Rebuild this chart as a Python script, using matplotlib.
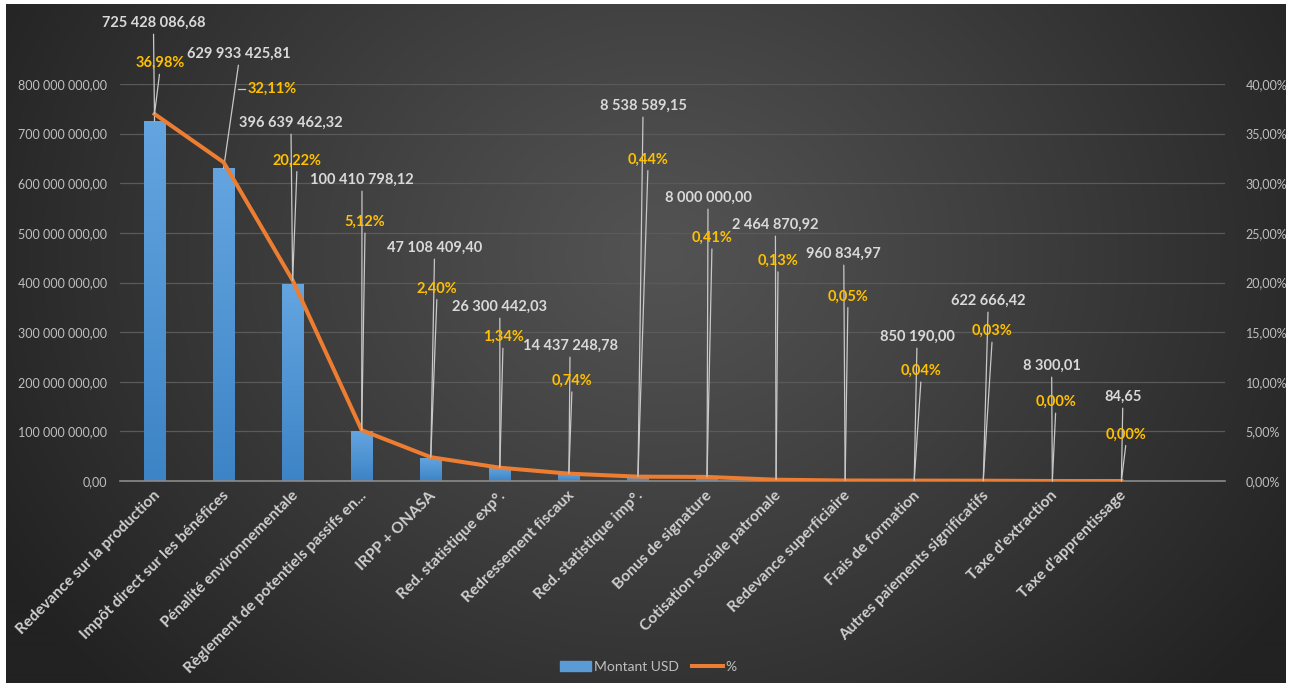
import matplotlib
matplotlib.use("Agg")
import matplotlib.pyplot as plt
import matplotlib.patches as mpatches
import matplotlib.transforms as mtransforms
from matplotlib.lines import Line2D
import numpy as np

plt.rcParams['font.family'] = ['Lato', 'DejaVu Sans']

categories = ["Redevance sur la production", "Impôt direct sur les bénéfices",
              "Pénalité environnementale", "Règlement de potentiels passifs en...",
              "IRPP + ONASA", "Red. statistique exp°.", "Redressement fiscaux",
              "Red. statistique imp°.", "Bonus de signature", "Cotisation sociale patronale",
              "Redevance superficiaire", "Frais de formation", "Autres paiements significatifs",
              "Taxe d'extraction", "Taxe d'apprentissage"]
montant = [725428086.68, 629933425.81, 396639462.32, 100410798.12, 47108409.40,
           26300442.03, 14437248.78, 8538589.15, 8000000.00, 2464870.92,
           960834.97, 850190.00, 622666.42, 8300.01, 84.65]
pct = [36.98, 32.11, 20.22, 5.12, 2.40, 1.34, 0.74, 0.44, 0.41, 0.13,
       0.05, 0.04, 0.03, 0.00, 0.00]

# where the data labels were dragged to (x in category units, y in axis units)
val_lbl_x = [-0.015, 1.223, 1.976, 3.004, 4.054, 5.0, 6.016, 7.073, 8.014, 8.99,
             9.98, 11.04, 12.07, 12.99, 14.02]
val_lbl_y = [922.9, 860.4, 721.4, 606.5, 469.5, 350.6, 272.0, 755.7, 570.3, 515.9,
             457.4, 290.2, 362.7, 231.7, 169.3]   # millions
pct_lbl_x = [0.079, 1.701, 2.063, 3.048, 4.09, 5.046, 6.045, 7.145, 8.072, 9.028,
             10.04, 11.1, 12.13, 13.05, 14.07]
pct_lbl_y = [42.1, 39.5, 32.3, 26.1, 19.4, 14.5, 10.1, 32.4, 24.5, 22.2,
             18.6, 11.1, 15.1, 7.96, 4.7]


def fr_num(v):
    return "{:,.2f}".format(v).replace(",", " ").replace(".", ",")


W, H = 1298, 687
fig = plt.figure(figsize=(W / 100, H / 100), dpi=100, facecolor="white")

# dark radial background
bg = fig.add_axes([6 / W, 4 / H, (1286 - 6) / W, (683 - 4) / H], zorder=-10)
yy, xx = np.mgrid[0:680, 0:1280]
r = np.sqrt(((xx - 655) / 760.0) ** 2 + ((yy - 250) / 640.0) ** 2)
r = np.clip(r, 0, 1) ** 1.1
shade = (0x53 + (0x22 - 0x53) * r) / 255.0
bg.imshow(np.dstack([shade, shade, shade]), aspect="auto", interpolation="bilinear")
bg.axis("off")

ax = fig.add_axes([120 / W, 1 - 481 / H, (1225 - 120) / W, (481 - 84) / H])
ax.set_facecolor("none")
ax2 = ax.twinx()

x = np.arange(len(categories))
bars = ax.bar(x, montant, width=0.31, color="#5B9BD5", zorder=2)

# vertical gradient inside each bar
grad = np.linspace(0, 1, 64).reshape(-1, 1)
top_c = np.array([0x64, 0xA5, 0xE0]) / 255.0
bot_c = np.array([0x3D, 0x84, 0xC6]) / 255.0
grad_img = top_c + (bot_c - top_c) * grad[..., None]
for b in bars:
    if b.get_height() <= 0:
        continue
    im = ax.imshow(grad_img, extent=[b.get_x(), b.get_x() + b.get_width(), 0, b.get_height()],
                   aspect="auto", zorder=2.1, interpolation="bilinear")
    im.set_clip_path(b)

ax.set_xlim(-0.5, 15.5)
ax.set_ylim(0, 800e6)
ax.set_yticks(np.arange(0, 800e6 + 1, 100e6))
ax.set_yticklabels([fr_num(t) for t in np.arange(0, 800e6 + 1, 100e6)])
ax.grid(axis="y", color="#5a5a5a", lw=0.9, zorder=0)
ax.set_axisbelow(True)
for s in ["top", "right", "left"]:
    ax.spines[s].set_visible(False)
ax.spines["bottom"].set_color("#8a8a8a")
ax.spines["bottom"].set_linewidth(1.2)
ax.tick_params(axis="y", length=0, pad=9, labelsize=9.0, labelcolor="#bfbfbf")
ax.tick_params(axis="x", length=0, pad=9)
ax.set_xticks(x)
ax.set_xticklabels(categories, rotation=45, ha="right", va="center",
                   rotation_mode="anchor", fontsize=11.2, fontweight="bold", color="#cfcfcf")
shift = mtransforms.ScaledTranslation(3 / 100, 0, fig.dpi_scale_trans)
for lbl in ax.get_xticklabels():
    lbl.set_transform(lbl.get_transform() + shift)

ax2.plot(x, pct, color="#ED7D31", lw=2.9, solid_joinstyle="round", zorder=3)
ax2.set_ylim(0, 40)
ax2.set_yticks(np.arange(0, 41, 5))
ax2.set_yticklabels(["{:.2f}%".format(t).replace(".", ",") for t in np.arange(0, 41, 5)])
ax2.tick_params(axis="y", length=0, pad=15, labelsize=9.0, labelcolor="#bfbfbf")
for s in ax2.spines.values():
    s.set_visible(False)

lead = dict(arrowstyle="-", color="#c8c8c8", lw=0.9, shrinkA=1, shrinkB=0, relpos=(0.5, 0))

for i in range(len(categories)):
    ax.annotate(fr_num(montant[i]), xy=(i, montant[i]), xytext=(val_lbl_x[i], val_lbl_y[i] * 1e6),
                ha="center", va="center", fontsize=10.5, fontweight="bold", color="#d9d9d9",
                arrowprops=lead, annotation_clip=False, zorder=5)
    txt = "{:.2f}%".format(pct[i]).replace(".", ",")
    if i == 1:
        # label sits beside its point, only a short stub is visible
        ax2.annotate(txt, xy=(pct_lbl_x[i], pct_lbl_y[i]), ha="center", va="center",
                     fontsize=10.5, fontweight="bold", color="#FFC000", annotation_clip=False)
        ax2.plot([pct_lbl_x[i] - 0.49, pct_lbl_x[i] - 0.39], [pct_lbl_y[i]] * 2,
                 color="#c8c8c8", lw=0.9, clip_on=False)
    else:
        ax2.annotate(txt, xy=(i, pct[i]), xytext=(pct_lbl_x[i], pct_lbl_y[i]),
                     ha="center", va="center", fontsize=10.5, fontweight="bold", color="#FFC000",
                     arrowprops=lead, annotation_clip=False, zorder=5)

handles = [mpatches.Patch(color="#5B9BD5"), Line2D([], [], color="#ED7D31", lw=2.9)]
fig.legend(handles, ["Montant USD", "%"], loc="center", bbox_to_anchor=(0.4996, 20 / H),
           ncol=2, frameon=False, fontsize=10, labelcolor="#bfbfbf",
           handlelength=2.2, handletextpad=0.2, columnspacing=1.0)

fig.savefig("out.png", dpi=100, facecolor="white")
